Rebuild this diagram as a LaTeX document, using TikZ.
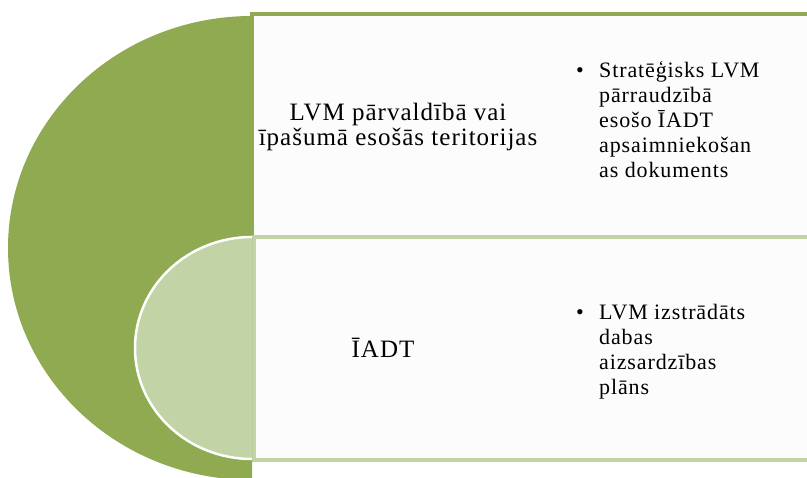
\documentclass[tikz,border=0pt]{standalone}
\usepackage{fontspec}
\setmainfont{Liberation Serif}[LetterSpace=4]
\usepackage{xcolor}
\definecolor{lvmdark}{HTML}{8FAA50}
\definecolor{lvmlight}{HTML}{C2D3A6}
\definecolor{lvmpaper}{HTML}{FCFCFC}

\begin{document}
\begin{tikzpicture}[x=1pt,y=-1pt,
  panel/.style={fill=lvmpaper,line width=4pt},
  midtext/.style={align=center,inner sep=0pt,font=\fontsize{25}{25}\selectfont},
  listtext/.style={anchor=north west,inner sep=0pt,font=\fontsize{22}{25}\selectfont}]
\useasboundingbox (0,0) rectangle (807,478);
\clip (0,0) rectangle (807,478);
% panels
\draw[panel,draw=lvmdark] (252,14) rectangle (812,237);
\draw[panel,draw=lvmlight] (254,237) rectangle (812,460);
% half discs
\fill[lvmdark] (252,480) arc[start angle=90,end angle=270,x radius=244,y radius=232] -- cycle;
\fill[lvmlight] (252,459) arc[start angle=90,end angle=270,x radius=117,y radius=111] -- cycle;
\draw[white,line width=2.5pt] (252,459) arc[start angle=90,end angle=270,x radius=117,y radius=111];
% texts
\node[midtext] (terr) at (398,127) {LVM pārvaldībā vai\\īpašumā esošās teritorijas};
\node[listtext] (plan) at (576,60) {\makebox[23pt][l]{•}\begin{tabular}[t]{@{}l@{}}Stratēģisks LVM\\pārraudzībā\\esošo ĪADT\\apsaimniekošan\\as dokuments\end{tabular}};
\node[midtext] (iadt) at (383,348) {ĪADT};
\node[listtext] (lvmplan) at (576,302) {\makebox[23pt][l]{•}\begin{tabular}[t]{@{}l@{}}LVM izstrādāts\\dabas\\aizsardzības\\plāns\end{tabular}};
\end{tikzpicture}
\end{document}
